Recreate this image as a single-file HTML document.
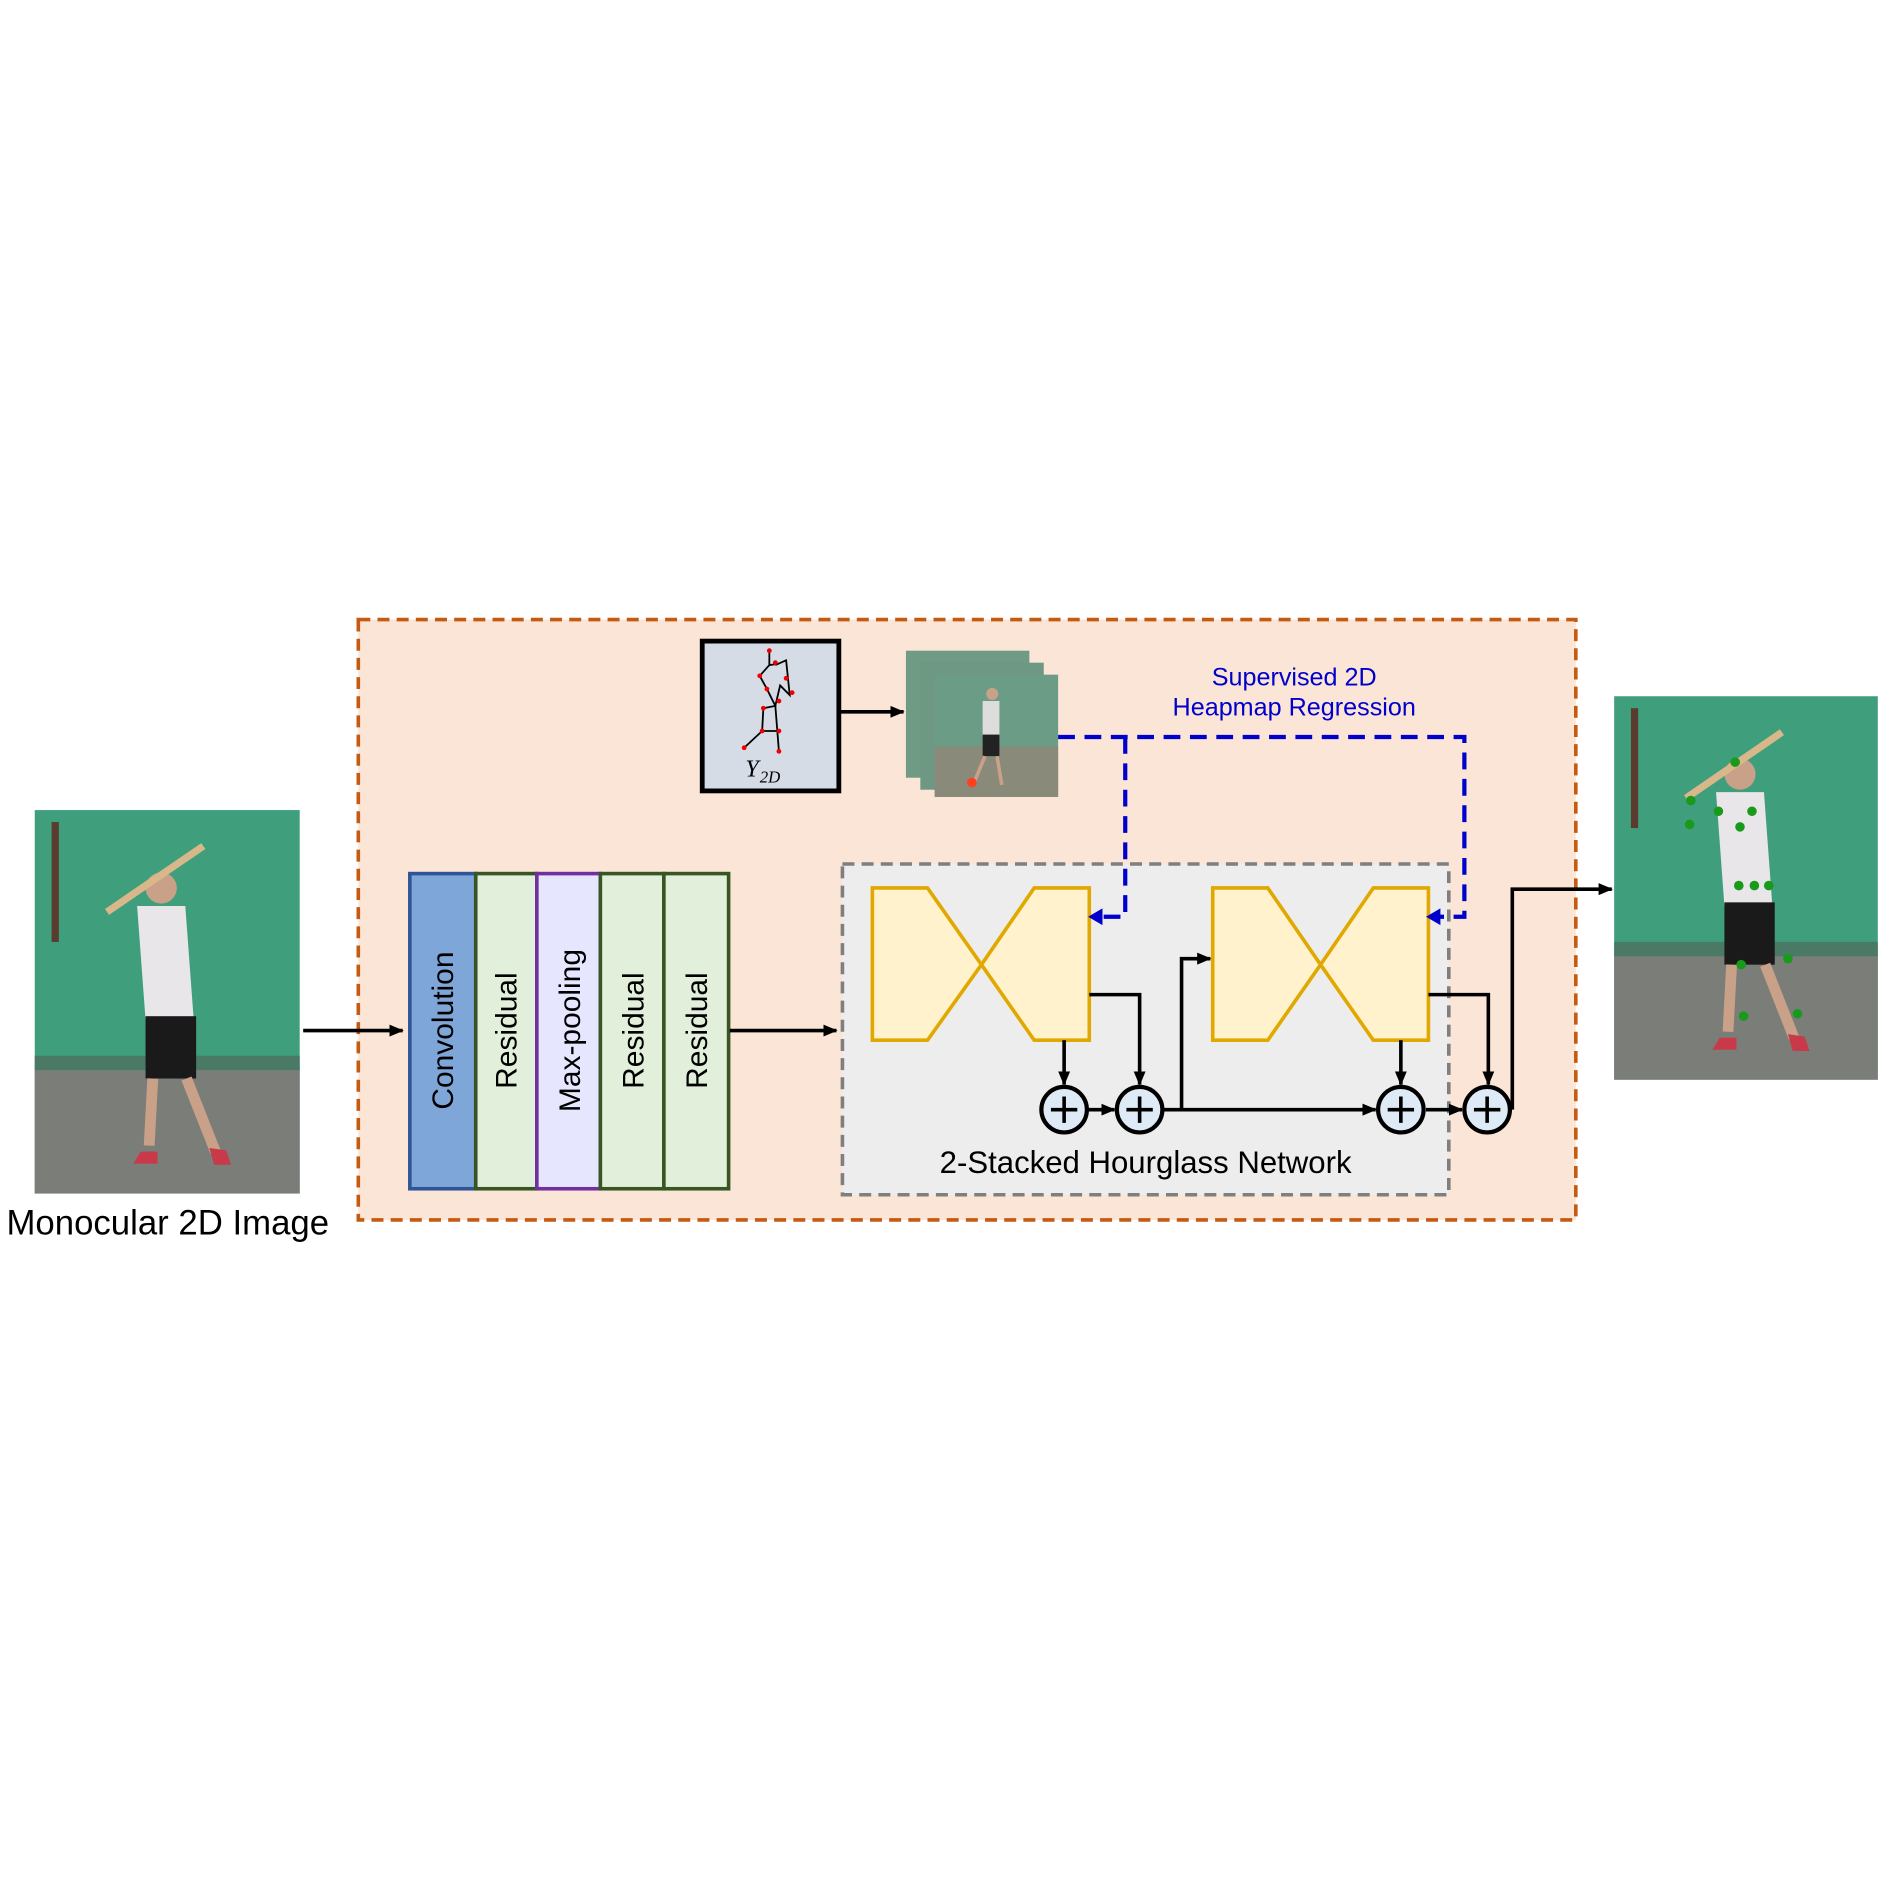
<!DOCTYPE html>
<html><head><meta charset="utf-8"><style>html,body{margin:0;padding:0;background:#fff}svg{display:block}</style></head>
<body>
<svg width="1879" height="1879" viewBox="0 0 1568 1568" xmlns="http://www.w3.org/2000/svg" font-family="Liberation Sans, sans-serif">
<defs>
<marker id="ah" markerWidth="12" markerHeight="10" refX="11" refY="5" orient="auto" markerUnits="userSpaceOnUse"><path d="M0,0 L12,5 L0,10z" fill="#000"/></marker>
<g id="photo">
<rect x="0" y="0" width="220" height="320" fill="#3f9e7c"/>
<rect x="0" y="215" width="220" height="105" fill="#7a7d78"/>
<rect x="0" y="205" width="220" height="12" fill="#4a7a66"/>
<rect x="14" y="10" width="6" height="100" fill="#5a3b2e"/>
<circle cx="105" cy="65" r="13" fill="#c9a088"/>
<path d="M85 80 L125 80 L132 175 L92 175z" fill="#e8e6e8"/>
<rect x="92" y="172" width="42" height="52" fill="#1a1a1a"/>
<path d="M98 224 L95 280 M126 224 L150 285" stroke="#c9a088" stroke-width="9"/>
<path d="M88 285 l14 0 l0 10 l-20 0z M145 282 l14 2 l4 12 l-14 0z" fill="#c83a4a"/>
<path d="M60 85 L140 30" stroke="#d8b88a" stroke-width="6"/>
</g>
</defs>
<rect width="1568" height="1568" fill="#fff"/>
<rect x="299" y="517" width="1016" height="501" fill="#fbe5d6" stroke="#c55a11" stroke-width="3" stroke-dasharray="10,6"/>
<use href="#photo" transform="translate(29,676) scale(1.005,1)"/>
<text x="140" y="1030" font-size="29" text-anchor="middle" fill="#000">Monocular 2D Image</text>
<line x1="253" y1="860" x2="336" y2="860" stroke="#000" stroke-width="3" marker-end="url(#ah)"/>
<rect x="342" y="729" width="55" height="263" fill="#7fa6d9" stroke="#2f5597" stroke-width="3"/>
<rect x="397" y="729" width="51" height="263" fill="#e2efda" stroke="#375623" stroke-width="3"/>
<rect x="448" y="729" width="53" height="263" fill="#e6e6ff" stroke="#7030a0" stroke-width="3"/>
<rect x="501" y="729" width="53" height="263" fill="#e2efda" stroke="#375623" stroke-width="3"/>
<rect x="554" y="729" width="54" height="263" fill="#e2efda" stroke="#375623" stroke-width="3"/>
<g font-size="25" fill="#000" text-anchor="middle">
<text transform="translate(378,860) rotate(-90)">Convolution</text>
<text transform="translate(431,860) rotate(-90)">Residual</text>
<text transform="translate(484,860) rotate(-90)">Max-pooling</text>
<text transform="translate(537,860) rotate(-90)">Residual</text>
<text transform="translate(590,860) rotate(-90)">Residual</text>
</g>
<line x1="609" y1="860" x2="698" y2="860" stroke="#000" stroke-width="3" marker-end="url(#ah)"/>
<rect x="703" y="721" width="506" height="276" fill="#ededed" stroke="#7f7f7f" stroke-width="3" stroke-dasharray="10,6"/>
<path d="M728 741 L774 741 L819 805 L863 741 L909 741 L909 868 L863 868 L819 805 L774 868 L728 868z" fill="#fff2cc" stroke="#e0a800" stroke-width="3"/>
<path d="M1012 741 L1058 741 L1102 805 L1146 741 L1192 741 L1192 868 L1146 868 L1102 805 L1058 868 L1012 868z" fill="#fff2cc" stroke="#e0a800" stroke-width="3"/>
<g stroke="#000" stroke-width="3" fill="none">
<line x1="888" y1="868" x2="888" y2="905" marker-end="url(#ah)"/>
<polyline points="909,830 951,830 951,905" marker-end="url(#ah)"/>
<line x1="907" y1="926" x2="930" y2="926" marker-end="url(#ah)"/>
<polyline points="986,926 986,800 1010,800" marker-end="url(#ah)"/>
<line x1="971" y1="926" x2="1148" y2="926" marker-end="url(#ah)"/>
<line x1="1169" y1="868" x2="1169" y2="905" marker-end="url(#ah)"/>
<polyline points="1192,830 1242,830 1242,905" marker-end="url(#ah)"/>
<line x1="1190" y1="926" x2="1220" y2="926" marker-end="url(#ah)"/>
<polyline points="1262,926 1262,742 1345,742" marker-end="url(#ah)"/>
</g>
<g stroke="#000" stroke-width="3.5" fill="#deebf7">
<circle cx="888" cy="926" r="19"/><circle cx="951" cy="926" r="19"/><circle cx="1169" cy="926" r="19"/><circle cx="1241" cy="926" r="19"/>
</g>
<g stroke="#000" stroke-width="3">
<path d="M877 926h22M888 915v22M940 926h22M951 915v22M1158 926h22M1169 915v22M1230 926h22M1241 915v22"/>
</g>
<text x="956" y="979" font-size="26" text-anchor="middle" fill="#000">2-Stacked Hourglass Network</text>
<rect x="586" y="535" width="114" height="125" fill="#d6dce5" stroke="#000" stroke-width="4"/>
<g stroke="#000" stroke-width="1.5" fill="none">
<path d="M642 543 L642 555 L634 564 L640 575 L647 589 L637 591 L636 610 L621 624 M647 589 L651 572 L659 580 L656 551 L647 555 M642 555 L649 554 M647 589 L650 627 M636 610 L650 610"/>
</g>
<g fill="#e00">
<circle cx="642" cy="543" r="2"/><circle cx="647" cy="553" r="2"/><circle cx="634" cy="564" r="2"/><circle cx="656" cy="566" r="2"/><circle cx="661" cy="578" r="2"/><circle cx="640" cy="575" r="2"/><circle cx="650" cy="585" r="2"/><circle cx="637" cy="591" r="2"/><circle cx="636" cy="610" r="2"/><circle cx="650" cy="610" r="2"/><circle cx="621" cy="624" r="2"/><circle cx="650" cy="627" r="2"/>
</g>
<text x="622" y="648" font-size="20" font-style="italic" font-family="Liberation Serif, serif">Y</text>
<text x="634" y="653" font-size="14" font-style="italic" font-family="Liberation Serif, serif">2D</text>
<line x1="700" y1="594" x2="754" y2="594" stroke="#000" stroke-width="3" marker-end="url(#ah)"/>
<rect x="756" y="543" width="103" height="106" fill="#6f9a84"/>
<rect x="768" y="553" width="103" height="106" fill="#6e9883"/>
<g transform="translate(780,563)">
<rect width="103" height="102" fill="#6b9c86"/>
<rect y="60" width="103" height="42" fill="#8a8a7a"/>
<circle cx="48" cy="16" r="5" fill="#c9a088"/>
<rect x="40" y="22" width="14" height="30" fill="#ddd"/>
<rect x="40" y="50" width="14" height="18" fill="#222"/>
<path d="M42 68 L32 92 M52 68 L56 92" stroke="#c9a088" stroke-width="3"/>
<circle cx="31" cy="90" r="4" fill="#ff4020"/>
</g>
<g stroke="#0000cc" stroke-width="3.5" fill="none" stroke-dasharray="14,8">
<polyline points="883,615 1222,615 1222,765 1200,765"/>
<polyline points="939,615 939,765 920,765"/>
</g>
<path d="M908 765 l12 -7 l0 14z M1190 765 l12 -7 l0 14z" fill="#0000cc"/>
<text x="1080" y="572" font-size="21" fill="#0000cc" text-anchor="middle">Supervised 2D</text>
<text x="1080" y="597" font-size="21" fill="#0000cc" text-anchor="middle">Heapmap Regression</text>
<use href="#photo" transform="translate(1347,581)"/>
<g fill="#1a9a1a">
<circle cx="1448" cy="636" r="4"/><circle cx="1411" cy="668" r="4"/><circle cx="1434" cy="677" r="4"/><circle cx="1462" cy="677" r="4"/><circle cx="1410" cy="688" r="4"/><circle cx="1452" cy="690" r="4"/><circle cx="1451" cy="739" r="4"/><circle cx="1464" cy="739" r="4"/><circle cx="1476" cy="739" r="4"/><circle cx="1453" cy="805" r="4"/><circle cx="1492" cy="800" r="4"/><circle cx="1455" cy="848" r="4"/><circle cx="1500" cy="846" r="4"/>
</g>
</svg>
</body></html>
